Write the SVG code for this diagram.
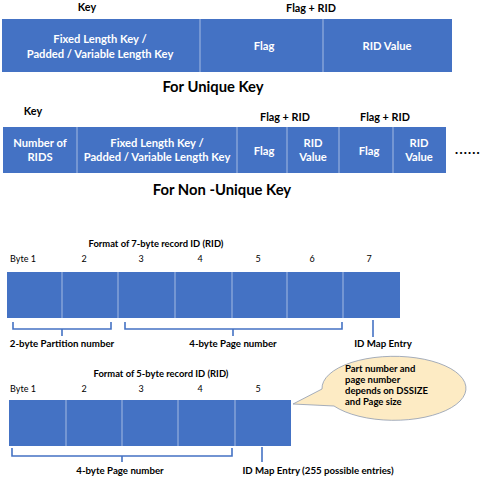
<svg xmlns="http://www.w3.org/2000/svg" width="486" height="479" viewBox="0 0 486 479">
<style>
text{font-family:Lato,"Open Sans","Liberation Sans",sans-serif;}
.bar{fill:#4472C4;}
.div{stroke:#8FAADC;stroke-width:1.3;}
.w{fill:#fff;font-weight:bold;font-size:11.2px;text-anchor:middle;}
.h{fill:#000;font-weight:bold;font-size:10.8px;text-anchor:middle;}
.cap{fill:#000;font-weight:bold;font-size:14.8px;text-anchor:middle;}
.fmt{fill:#000;font-weight:bold;font-size:9.4px;text-anchor:middle;}
.b{fill:#000;font-size:9px;text-anchor:middle;}
.lbl{fill:#000;font-weight:bold;font-size:9.7px;text-anchor:middle;}
.br{fill:none;stroke:#4472C4;stroke-width:1.6;}
.co{fill:#000;font-weight:bold;font-size:9.5px;}
</style>

<g id="unique-key">
<text class="h" x="87" y="11">Key</text>
<text class="h" x="311" y="12">Flag + RID</text>
<rect class="bar" x="2" y="19" width="450" height="53"/>
<line class="div" x1="200" y1="19" x2="200" y2="72"/>
<line class="div" x1="323" y1="19" x2="323" y2="72"/>
<text class="w" x="100" y="43">Fixed Length Key /</text>
<text class="w" x="100" y="58">Padded / Variable Length Key</text>
<text class="w" x="264" y="50">Flag</text>
<text class="w" x="387" y="50">RID Value</text>
<text class="cap" x="213" y="92">For Unique Key</text>
</g>

<g id="non-unique-key">
<text class="h" x="33" y="115">Key</text>
<text class="h" x="285" y="121">Flag + RID</text>
<text class="h" x="385" y="121">Flag + RID</text>
<rect class="bar" x="3" y="127" width="443" height="46"/>
<line class="div" x1="77" y1="127" x2="77" y2="173"/>
<line class="div" x1="237" y1="127" x2="237" y2="173"/>
<line class="div" x1="287" y1="127" x2="287" y2="173"/>
<line class="div" x1="339" y1="127" x2="339" y2="173"/>
<line class="div" x1="393" y1="127" x2="393" y2="173"/>
<text class="w" x="40" y="147">Number of</text>
<text class="w" x="40" y="161">RIDS</text>
<text class="w" x="157" y="147">Fixed Length Key /</text>
<text class="w" x="157" y="161">Padded / Variable Length Key</text>
<text class="w" x="264" y="155">Flag</text>
<text class="w" x="313" y="147">RID</text>
<text class="w" x="313" y="161">Value</text>
<text class="w" x="369" y="155">Flag</text>
<text class="w" x="419" y="147">RID</text>
<text class="w" x="419" y="161">Value</text>
<text x="468" y="154" style="font-weight:900;font-size:13px;letter-spacing:1.2px;text-anchor:middle;fill:#000">......</text>
<text class="cap" x="222" y="195">For Non -Unique Key</text>
</g>

<g id="rid-7-byte">
<text class="fmt" x="156" y="247">Format of 7-byte record ID (RID)</text>
<text class="b" x="23" y="262">Byte 1</text>
<text class="b" x="84" y="262">2</text>
<text class="b" x="141" y="262">3</text>
<text class="b" x="200" y="262">4</text>
<text class="b" x="258" y="262">5</text>
<text class="b" x="312" y="262">6</text>
<text class="b" x="369" y="262">7</text>
<rect class="bar" x="7" y="272" width="393" height="46"/>
<line class="div" x1="62" y1="272" x2="62" y2="318"/>
<line class="div" x1="118" y1="272" x2="118" y2="318"/>
<line class="div" x1="175" y1="272" x2="175" y2="318"/>
<line class="div" x1="232" y1="272" x2="232" y2="318"/>
<line class="div" x1="287" y1="272" x2="287" y2="318"/>
<line class="div" x1="343" y1="272" x2="343" y2="318"/>
<text class="lbl" x="62" y="347">2-byte Partition number</text>
<text class="lbl" x="233" y="347">4-byte Page number</text>
<text class="lbl" x="383" y="347">ID Map Entry</text>
</g>

<g id="rid-5-byte">
<text class="fmt" x="161" y="377">Format of 5-byte record ID (RID)</text>
<text class="b" x="23" y="392">Byte 1</text>
<text class="b" x="84" y="392">2</text>
<text class="b" x="141" y="392">3</text>
<text class="b" x="200" y="392">4</text>
<text class="b" x="258" y="392">5</text>
<rect class="bar" x="9" y="400" width="282" height="46"/>
<line class="div" x1="66" y1="400" x2="66" y2="446"/>
<line class="div" x1="122" y1="400" x2="122" y2="446"/>
<line class="div" x1="178" y1="400" x2="178" y2="446"/>
<line class="div" x1="235" y1="400" x2="235" y2="446"/>
<text class="lbl" x="120" y="474">4-byte Page number</text>
<text class="lbl" x="318" y="474">ID Map Entry (255 possible entries)</text>
</g>

<g id="callout">
<path d="M322,389 A72,32 0 1 1 334,406 L293,404 Z" fill="#FDEBC4" stroke="#8E9BB0" stroke-width="0.8"/>
<text class="co" x="345" y="372">Part number and</text>
<text class="co" x="345" y="383">page number</text>
<text class="co" x="345" y="394">depends on DSSIZE</text>
<text class="co" x="345" y="405">and Page size</text>
</g>

<g id="connectors">
<path class="br" d="M13,322 V329 H111 V322 M62,329 V336"/>
<path class="br" d="M125,322 V329 H342 V322 M233,329 V336"/>
<path class="br" d="M373,320 V337"/>
<path class="br" d="M12,448 V456 H232 V448 M122,456 V462"/>
<path class="br" d="M262,447 V462"/>
</g>
</svg>
